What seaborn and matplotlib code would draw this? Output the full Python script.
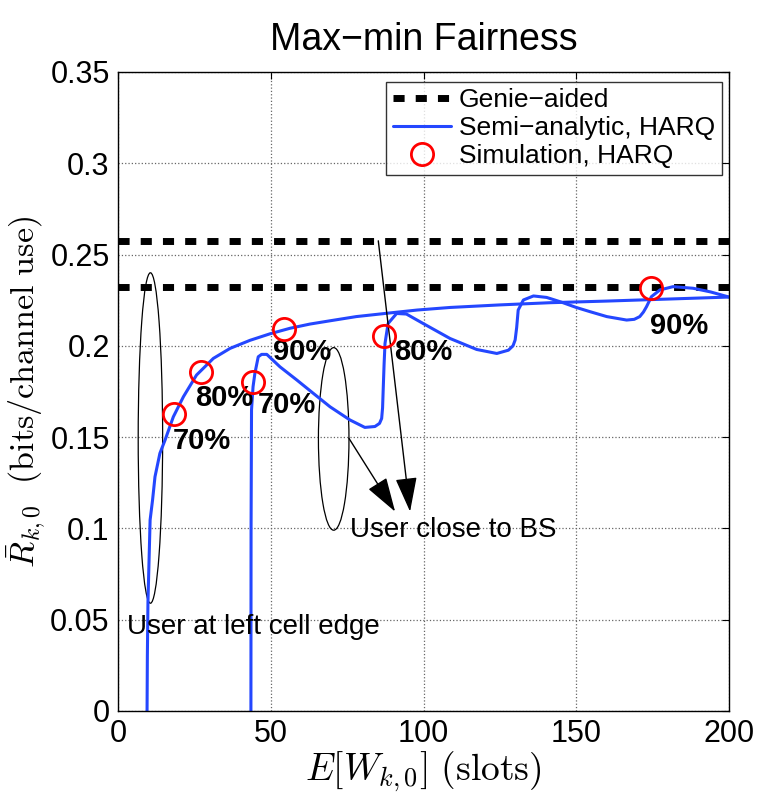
import matplotlib
matplotlib.use("Agg")
import numpy as np
import pandas as pd
import matplotlib.pyplot as plt
import seaborn as sns
from matplotlib.patches import Ellipse

# genie-aided rate levels
genie_levels = [0.2575, 0.2322]
genie_x = [0, 200]

# semi-analytic curve, user at left cell edge
edge_x = [9.5, 9.6, 9.8, 10.5, 11.3, 12.1, 13.7, 15.4, 18.1, 21.4, 25.7, 31.2,
          36.7, 43.2, 49.8, 56.3, 62.8, 69.4, 78.0, 89.0, 98.0, 108.7, 125.0,
          141.4, 160.0, 180.0, 200.0]
edge_y = [0.0, 0.03, 0.06, 0.1046, 0.1155, 0.1283, 0.1411, 0.1484, 0.1611,
          0.1721, 0.1840, 0.1931, 0.1986, 0.2030, 0.2066, 0.2096, 0.2119, 0.2137,
          0.2160, 0.2180, 0.2196, 0.2210, 0.2224, 0.2236, 0.2245, 0.2256, 0.2267]

# semi-analytic curve, user close to BS
close_x = [43.5, 43.55, 43.7, 44.2, 44.8, 45.9, 47.0, 48.7, 53.0, 58.5, 63.9,
           69.4, 75.9, 80.8, 84.1, 85.6, 86.3, 86.6, 86.8, 87.1, 87.4, 88.4,
           91.2, 94.4, 99.9, 108.7, 117.4, 124.0, 127.8, 129.3, 130.0, 130.5,
           131.0, 132.7, 136.0, 140.3, 145.0, 150.0, 154.5, 160.0, 166.5, 169.0,
           170.8, 172.0, 173.0, 174.6, 177.4, 181.7, 188.3, 194.0, 200.0]
close_y = [0.0, 0.10, 0.165, 0.1776, 0.1849, 0.1940, 0.1953, 0.1953, 0.1885,
           0.1813, 0.1740, 0.1666, 0.1594, 0.1553, 0.1558, 0.1575, 0.1602, 0.1660,
           0.1758, 0.1900, 0.2013, 0.2122, 0.2177, 0.2174, 0.2122, 0.2040, 0.1980,
           0.1958, 0.1976, 0.2000, 0.2032, 0.2100, 0.2196, 0.2251, 0.2273, 0.2265,
           0.2240, 0.2210, 0.2187, 0.2160, 0.2141, 0.2145, 0.2160, 0.2185, 0.2214,
           0.2269, 0.2306, 0.2324, 0.2315, 0.2295, 0.2267]

# simulation points
sim_x = [18.3, 27.2, 54.3, 44.2, 87.1, 174.6]
sim_y = [0.1626, 0.1857, 0.2092, 0.180, 0.2053, 0.2314]
sim_labels = ["70%", "80%", "90%", "70%", "80%", "90%"]
# label offsets in points (right, down)
label_off = [(-0.5, -9.5), (-4, -8.5), (-7.5, -6.5), (3.5, -6), (7, -1.5), (-1, -17)]

sns.set_style("white")
plt.rcParams["font.family"] = ["Liberation Sans", "DejaVu Sans"]
plt.rcParams["mathtext.fontset"] = "cm"
plt.rcParams["text.color"] = "black"
plt.rcParams["axes.labelcolor"] = "black"
plt.rcParams["xtick.color"] = "black"
plt.rcParams["ytick.color"] = "black"

fig = plt.figure(figsize=(7.63, 8.01), dpi=100)
ax = fig.add_axes([0.1547, 0.1124, 0.8007, 0.7978])

blue = "#2447ff"

for i, lvl in enumerate(genie_levels):
    sns.lineplot(x=genie_x, y=[lvl, lvl], color="black", linewidth=5,
                 dashes=False, ax=ax, label="Genie\u2212aided" if i == 0 else None)
for line in ax.get_lines():
    line.set_dashes((1.6, 1.6))

sns.lineplot(x=edge_x, y=edge_y, sort=False, estimator=None, color=blue,
             linewidth=2.2, ax=ax, label="Semi\u2212analytic, HARQ")
sns.lineplot(x=close_x, y=close_y, sort=False, estimator=None, color=blue,
             linewidth=2.2, ax=ax)
for line in ax.get_lines()[2:]:
    line.set_solid_joinstyle("round")
    line.set_solid_capstyle("round")

ax.plot(sim_x, sim_y, linestyle="none", marker="o", markersize=16,
        markerfacecolor="none", markeredgecolor="red", markeredgewidth=2,
        label="Simulation, HARQ", zorder=5)

for sx, sy, lab, off in zip(sim_x, sim_y, sim_labels, label_off):
    ax.annotate(lab, (sx, sy), xytext=off, textcoords="offset points",
                ha="left", va="top", fontsize=21, fontweight="bold")

# ellipses marking the two user groups
ax.add_patch(Ellipse((10.6, 0.1495), 8.0, 0.181, fill=False, edgecolor="black", linewidth=0.9))
ax.add_patch(Ellipse((70.6, 0.149), 10.0, 0.1, fill=False, edgecolor="black", linewidth=0.9))

arrow = dict(arrowstyle="-|>,head_length=1.08,head_width=0.34", mutation_scale=20,
             color="black", linewidth=1, shrinkA=0, shrinkB=0)
ax.annotate("", xy=(90.7, 0.1092), xytext=(75.6, 0.1493), arrowprops=arrow)
ax.annotate("", xy=(95.6, 0.1092), xytext=(85.2, 0.2575), arrowprops=arrow)

ax.text(75.9, 0.099, "User close to BS", fontsize=20, va="center", ha="left")
ax.text(2.8, 0.0462, "User at left cell edge", fontsize=20, va="center", ha="left")

ax.set_xlim(0, 200)
ax.set_ylim(0, 0.35)
ax.set_xticks([0, 50, 100, 150, 200])
ax.set_yticks([0, 0.05, 0.1, 0.15, 0.2, 0.25, 0.3, 0.35])
ax.set_yticklabels(["0", "0.05", "0.1", "0.15", "0.2", "0.25", "0.3", "0.35"])
ax.tick_params(direction="in", top=True, right=True, labelsize=22, length=5,
               width=0.8, pad=6)
ax.grid(True, linestyle=":", color="0.4", linewidth=0.9)
for s in ax.spines.values():
    s.set_linewidth(1.0)
    s.set_color("black")

ax.set_title("Max\u2212min Fairness", fontsize=27, pad=16)
ax.set_xlabel(r"$E[W_{k,0}]\ \mathrm{(slots)}$", fontsize=27, labelpad=0)
ax.set_ylabel(r"$\bar{R}_{k,0}\ \ \mathrm{(bits/channel\ use)}$", fontsize=24.5, labelpad=2)

handles, labels = ax.get_legend_handles_labels()
order = ["Genie\u2212aided", "Semi\u2212analytic, HARQ", "Simulation, HARQ"]
hmap = dict(zip(labels, handles))
leg = ax.legend([hmap[k] for k in order], order, loc="upper right",
                bbox_to_anchor=(0.988, 0.985), borderaxespad=0, fontsize=19,
                frameon=True, fancybox=False, handlelength=2.2, handletextpad=0.3,
                borderpad=0.25, labelspacing=0.15)
leg.get_frame().set_edgecolor("black")
leg.get_frame().set_linewidth(1.0)

fig.savefig("out.png", dpi=100)
